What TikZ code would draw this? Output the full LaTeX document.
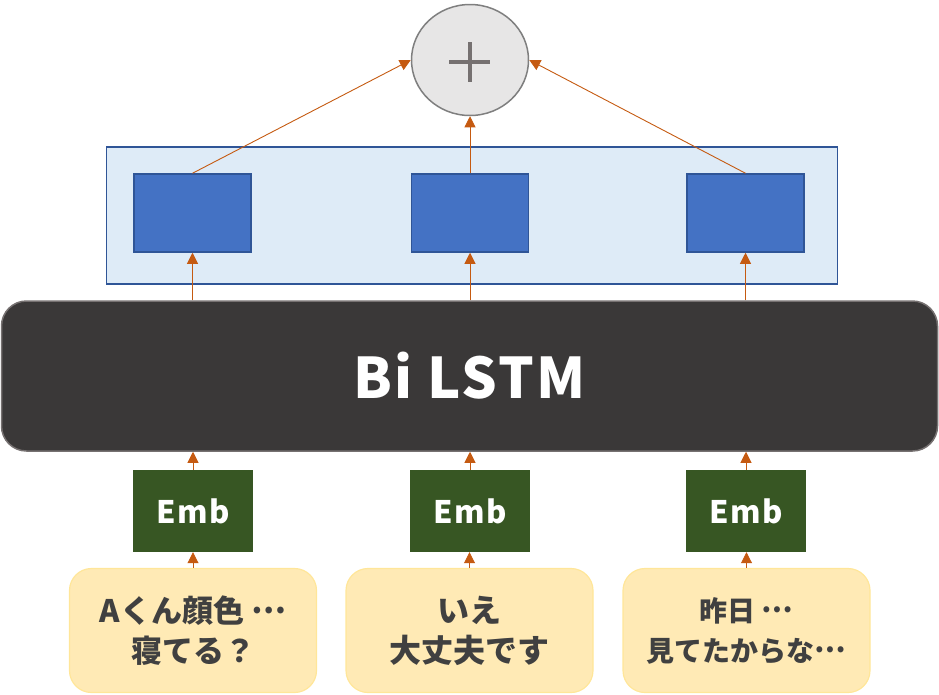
\documentclass[tikz,border=0pt]{standalone}
\usepackage{fontspec}
\setmainfont{Noto Sans CJK JP}
\usetikzlibrary{arrows.meta,shapes.geometric}
\newcommand\middots{\raisebox{0.3em}{…}}
\definecolor{arr}{HTML}{C55A11}
\definecolor{lbfill}{HTML}{DEEBF7}
\definecolor{bborder}{HTML}{2F5597}
\definecolor{bfill}{HTML}{4472C4}
\definecolor{lstm}{HTML}{3A3838}
\definecolor{lstmb}{HTML}{767171}
\definecolor{emb}{HTML}{375623}
\definecolor{yfill}{HTML}{FFEAB5}
\definecolor{yborder}{HTML}{FFE699}
\definecolor{txt}{HTML}{404040}
\definecolor{cfill}{HTML}{E7E6E6}
\definecolor{cborder}{HTML}{7F7F7F}
\tikzset{
  conn/.style={draw=arr, line width=0.9pt, -{Triangle[width=11pt,length=11pt]}},
  hidbox/.style={rectangle, draw=bborder, fill=bfill, line width=1.5pt, minimum width=117pt, minimum height=78pt, inner sep=0pt},
  embbox/.style={rectangle, fill=emb, minimum width=120pt, minimum height=82pt, inner sep=0pt, text=white, font=\fontsize{31}{36}\selectfont\bfseries\addfontfeature{LetterSpace=4}},
  inbox/.style={rectangle, rounded corners=22pt, draw=yborder, fill=yfill, line width=1.2pt, minimum width=247pt, minimum height=124pt, inner sep=0pt, text=txt, align=center},
}
\begin{document}
\begin{tikzpicture}[x=1pt,y=-1pt]
\useasboundingbox (0,0) rectangle (939,694);
% sum circle
\node[ellipse, draw=cborder, fill=cfill, line width=1.5pt, minimum width=117pt, minimum height=111pt, inner sep=0pt] (sum) at (470,60) {};
\draw[lstmb, line width=4.5pt] (449,62) -- (490,62) (470,42) -- (470,82);
% hidden container
\node[rectangle, draw=bborder, fill=lbfill, line width=1.5pt, minimum width=731pt, minimum height=137pt, inner sep=0pt] (cont) at (472,215.5) {};
\node[hidbox] (h1) at (192.5,213) {};
\node[hidbox] (h2) at (470,213) {};
\node[hidbox] (h3) at (745.5,213) {};
% LSTM
\node[rectangle, rounded corners=25pt, draw=lstmb, fill=lstm, line width=1.5pt, minimum width=936pt, minimum height=150pt, inner sep=0pt, text=white, font=\fontsize{56}{60}\selectfont\bfseries\addfontfeature{LetterSpace=4}] (lstm) at (469.5,376) {Bi LSTM};
% Emb
\node[embbox] (e1) at (193,511) {Emb};
\node[embbox] (e2) at (470,511) {Emb};
\node[embbox] (e3) at (746,511) {Emb};
% inputs
\node[inbox, font=\fontsize{31}{40}\selectfont\bfseries] (i1) at (193,630.5) {Aくん顔色 \middots\\寝てる？};
\node[inbox, font=\fontsize{32}{40}\selectfont\bfseries] (i2) at (469.5,630.5) {いえ\\大丈夫です};
\node[inbox, font=\fontsize{28}{40}\selectfont\bfseries] (i3) at (746.5,630.5) {昨日 \middots\\見てたからな\middots};
% connectors
\foreach \a/\b in {i1/e1,i2/e2,i3/e3,e1/lstm,e2/lstm,e3/lstm}{
  \draw[conn] (\a.north) -- (\b.south -| \a.north);
}
\draw[conn] (lstm.north -| h1.south) -- (h1.south);
\draw[conn] (lstm.north -| h2.south) -- (h2.south);
\draw[conn] (lstm.north -| h3.south) -- (h3.south);
\draw[conn] (h1.north) -- (sum.west);
\draw[conn] (h2.north) -- (sum.south);
\draw[conn] (h3.north) -- (sum.east);
\end{tikzpicture}
\end{document}
